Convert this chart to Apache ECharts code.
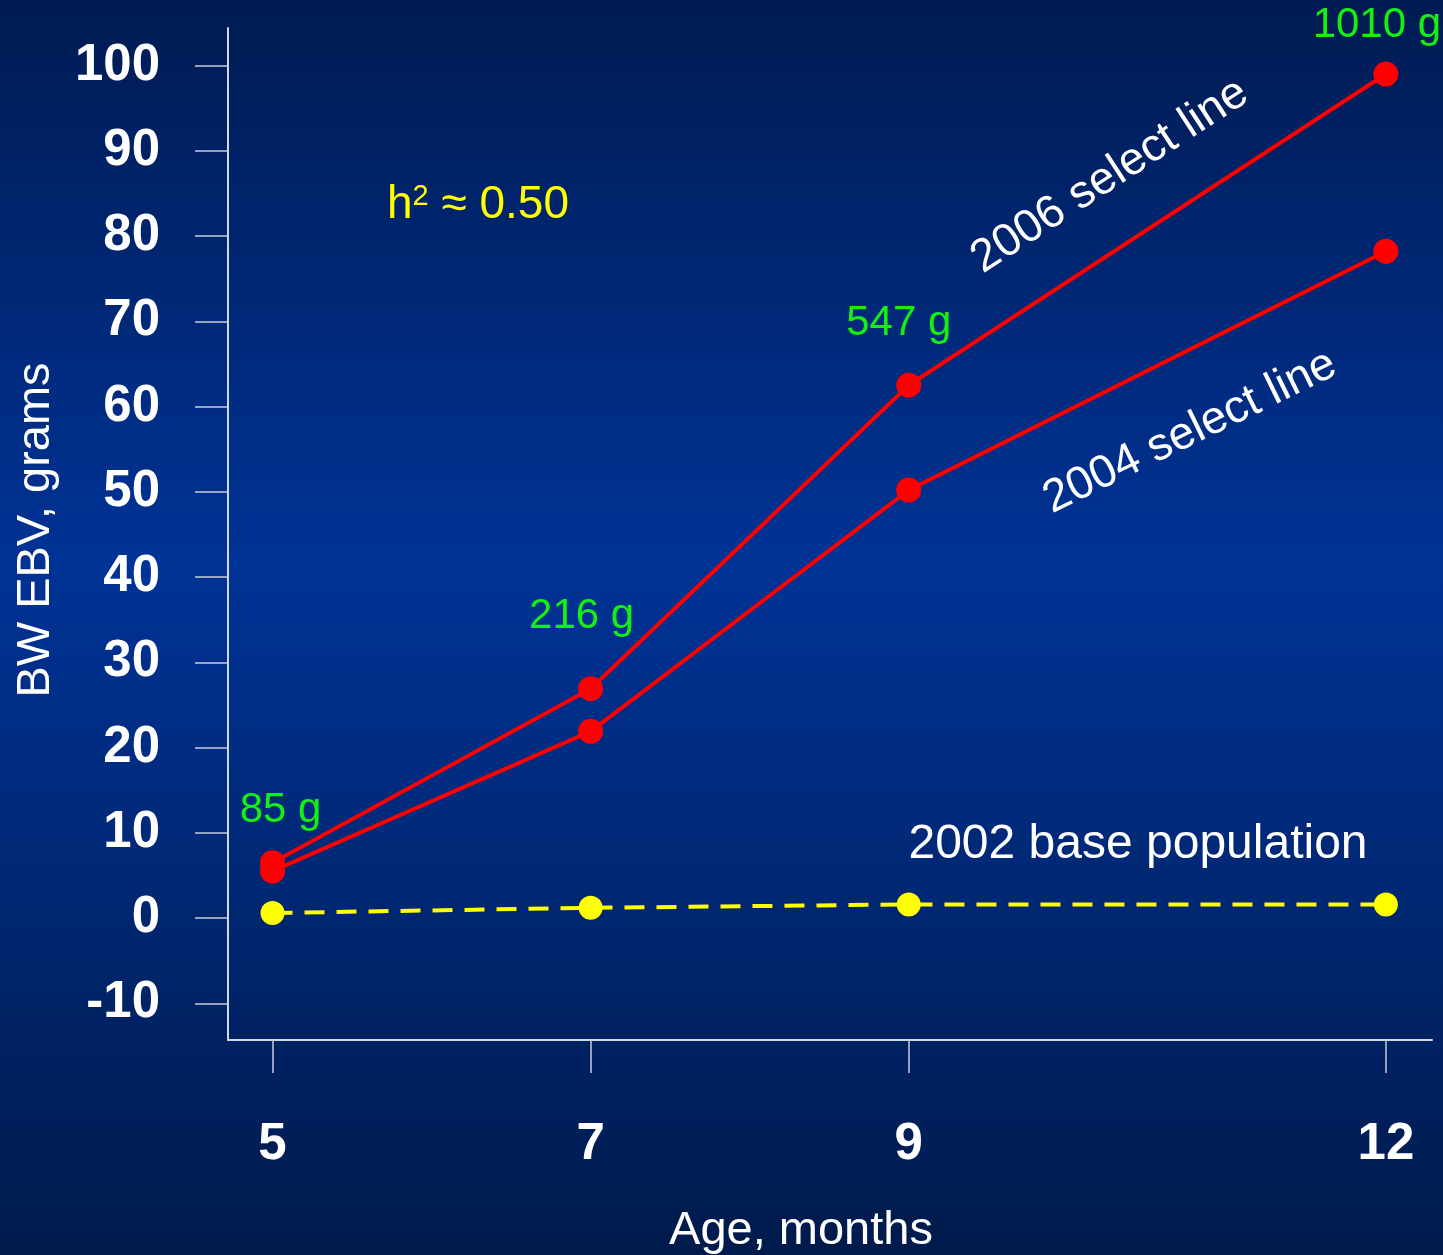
<!DOCTYPE html>
<html>
<head>
<meta charset="utf-8">
<script src="https://cdn.jsdelivr.net/npm/echarts@6/dist/echarts.min.js"></script>
<style>
html,body{margin:0;padding:0;width:1443px;height:1255px;overflow:hidden;}
#chart{width:1443px;height:1255px;}
</style>
</head>
<body>
<div id="chart"></div>
<script>
// ---- data ----
const ages = [5, 7, 9, 12];
const xTicks = [5, 7, 9, 12];
const yTicks = [-10, 0, 10, 20, 30, 40, 50, 60, 70, 80, 90, 100];
const select2006 = [6.5, 26.9, 62.5, 99.0];
const select2004 = [5.5, 21.9, 50.2, 78.2];
const base2002 = [0.6, 1.2, 1.6, 1.6];
const weights2006 = ['85 g', '216 g', '547 g', '1010 g'];

// ---- styling (not data) ----
const weightLabelOffsets = [[8, -52], [-9, -72], [-10, -62], [-9, -49]];
const FONT = '"Liberation Sans", Arial, sans-serif';

const chart = echarts.init(document.getElementById('chart'), null, {renderer: 'canvas'});

const option = {
  animation: false,
  backgroundColor: {
    type: 'linear', x: 0, y: 0, x2: 0, y2: 1,
    colorStops: [
      {offset: 0, color: '#001b52'},
      {offset: 0.45, color: '#003396'},
      {offset: 1, color: '#001a4b'}
    ]
  },
  grid: {left: 228, right: 11, top: 28, bottom: 215, containLabel: false},
  xAxis: {
    type: 'value',
    min: 4.72, max: 12.29,
    splitLine: {show: false},
    axisLine: {show: true, onZero: false, lineStyle: {color: '#d4d6e4', width: 2}},
    axisTick: {show: true, inside: false, length: 33, customValues: xTicks, lineStyle: {color: '#c8cadc', width: 1.5}},
    axisLabel: {
      customValues: xTicks, margin: 105, verticalAlign: 'middle',
      color: '#ffffff', fontFamily: FONT, fontWeight: 'bold', fontSize: 51
    }
  },
  yAxis: {
    type: 'value',
    min: -14.3, max: 104.4,
    splitLine: {show: false},
    axisLine: {show: true, onZero: false, lineStyle: {color: '#d4d6e4', width: 2}},
    axisTick: {show: true, inside: false, length: 33, customValues: yTicks, lineStyle: {color: '#c8cadc', width: 1.5}},
    axisLabel: {
      customValues: yTicks, margin: 68, padding: [4, 0, 0, 0],
      color: '#ffffff', fontFamily: FONT, fontWeight: 'bold', fontSize: 51
    }
  },
  series: [
    {
      name: '2002 base population',
      type: 'line',
      data: ages.map((a, i) => [a, base2002[i]]),
      symbol: 'circle', symbolSize: 24,
      itemStyle: {color: '#ffff00'},
      lineStyle: {color: '#ffff00', width: 4, type: [20, 12]},
      z: 2
    },
    {
      name: '2004 select line',
      type: 'line',
      data: ages.map((a, i) => [a, select2004[i]]),
      symbol: 'circle', symbolSize: 25,
      itemStyle: {color: '#ff0000'},
      lineStyle: {color: '#ff0000', width: 4},
      z: 3
    },
    {
      name: '2006 select line',
      type: 'line',
      data: ages.map((a, i) => ({
        value: [a, select2006[i]],
        label: {formatter: weights2006[i], offset: weightLabelOffsets[i]}
      })),
      symbol: 'circle', symbolSize: 25,
      itemStyle: {color: '#ff0000'},
      lineStyle: {color: '#ff0000', width: 4},
      label: {
        show: true, position: 'inside',
        color: '#14f014', fontFamily: FONT, fontSize: 42
      },
      z: 4
    }
  ],
  graphic: [
    {
      type: 'text', x: 36, y: 530, rotation: Math.PI / 2,
      style: {text: 'BW EBV, grams', fill: '#ffffff', font: '47px ' + FONT, textAlign: 'center', textVerticalAlign: 'middle'}
    },
    {
      type: 'text', x: 801, y: 1231,
      style: {text: 'Age, months', fill: '#ffffff', font: '47px ' + FONT, textAlign: 'center', textVerticalAlign: 'middle'}
    },
    {
      type: 'text', x: 478, y: 205,
      style: {
        text: 'h{s|2} \u2248 0.50', fill: '#ffff00', font: '46px ' + FONT,
        textAlign: 'center', textVerticalAlign: 'middle',
        rich: {s: {fontSize: 29, fontFamily: FONT, fill: '#ffff00', verticalAlign: 'top'}}
      }
    },
    {
      type: 'text', x: 1138, y: 845,
      style: {text: '2002 base population', fill: '#ffffff', font: '48px ' + FONT, textAlign: 'center', textVerticalAlign: 'middle'}
    },
    {
      type: 'text', x: 1110, y: 176, rotation: 33 * Math.PI / 180,
      style: {text: '2006 select line', fill: '#ffffff', font: '46px ' + FONT, textAlign: 'center', textVerticalAlign: 'middle'}
    },
    {
      type: 'text', x: 1190, y: 432, rotation: 26 * Math.PI / 180,
      style: {text: '2004 select line', fill: '#ffffff', font: '46px ' + FONT, textAlign: 'center', textVerticalAlign: 'middle'}
    }
  ]
};
chart.setOption(option);
</script>
</body>
</html>
